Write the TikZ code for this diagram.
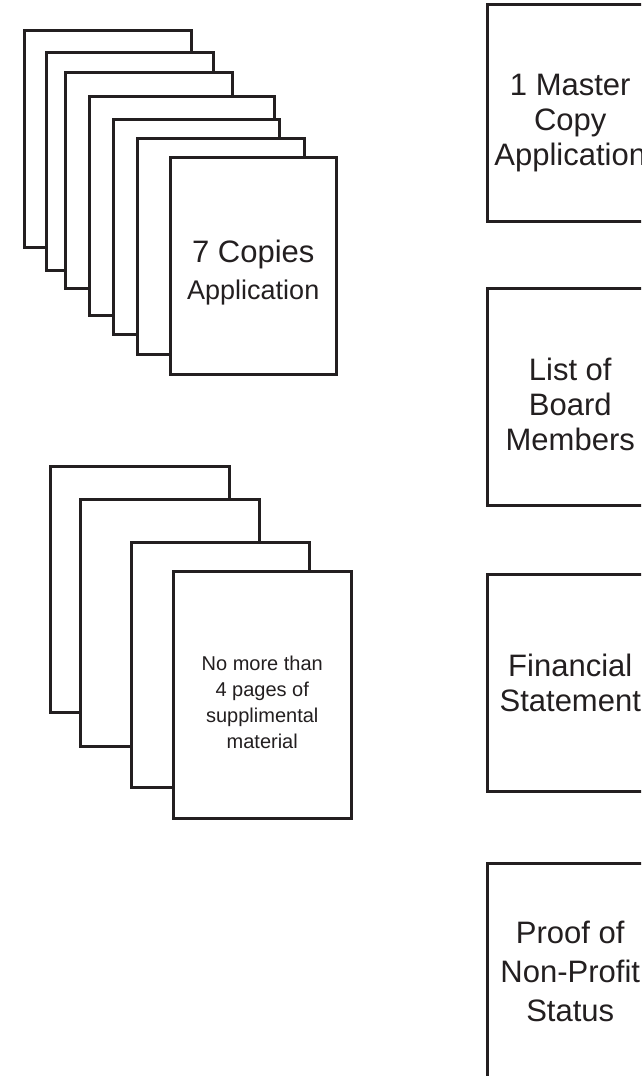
\documentclass[tikz,border=0pt]{standalone}
\usepackage{fontspec}
\setmainfont{Liberation Sans}
\usepackage{xcolor}
\usepackage{tikz}
\usetikzlibrary{positioning}
\definecolor{inkgray}{HTML}{231F20}

\begin{document}
\begin{tikzpicture}[
		x=1pt, y=-1pt,
		every node/.style={text=inkgray},
		sheet/.style={rectangle, draw=inkgray, line width=2.5pt, fill=white, inner sep=0pt, anchor=north west, align=center},
		docbox/.style={sheet, minimum width=166pt, minimum height=217pt},
		bigtext/.style={font=\fontsize{31}{35}\selectfont}
		]
		
		\useasboundingbox (0,0) rectangle (641,1076);
		\clip (0,0) rectangle (641,1076);
		
		% Application copies
		\foreach \l/\t/\w/\h [count=\i] in {23/29/167pt/217pt, 45/51/167pt/218pt, 64/71/167pt/216pt, 88/95/185pt/219pt, 112/118/166pt/215pt, 136/137/167pt/216pt}
		\node[sheet, minimum width=\w, minimum height=\h] (copy\i) at (\l,\t) {};
		\node[sheet, minimum width=166pt, minimum height=217pt, font=\fontsize{27}{37}\selectfont] (copy7) at (169,156) {\rule{0pt}{36pt}{\fontsize{31}{37}\selectfont 7 Copies}\\Application};
		
		% Supplemental pages
		\foreach \l/\t/\w/\h [count=\i] in {49/465/179pt/246pt, 79/498/179pt/247pt, 130/541/178pt/245pt}
		\node[sheet, minimum width=\w, minimum height=\h] (supp\i) at (\l,\t) {};
		\node[sheet, minimum width=178pt, minimum height=247pt, font=\fontsize{20}{26}\selectfont] (supp4) at (172,570) {\rule{0pt}{30pt}No more than\\4 pages of\\supplimental\\material};
		
		% Single documents
		\node[docbox, bigtext] (master) at (486,3) {\rule{0pt}{42pt}1 Master\\Copy\\Application};
		\node[docbox, bigtext] (board) at (486,287) {\rule{0pt}{37pt}List of\\Board\\Members};
		\node[docbox, bigtext] (financial) at (486,573) {Financial\\Statement};
		\node[docbox, font=\fontsize{31}{39}\selectfont] (status) at (486,862) {Proof of\\Non-Profit\\Status};
		
	\end{tikzpicture}
\end{document}
